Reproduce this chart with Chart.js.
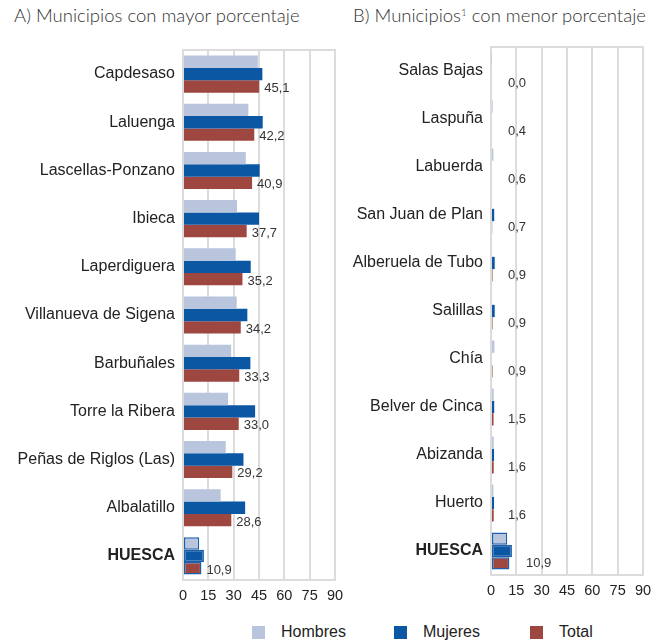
<!DOCTYPE html>
<html lang="es">
<head>
<meta charset="utf-8">
<title>Municipios con mayor y menor porcentaje</title>
<script src="https://cdn.jsdelivr.net/npm/chart.js@4.4.1/dist/chart.umd.min.js"></script>
<style>
  html, body { margin: 0; padding: 0; background: #fff; }
  body { position: relative; width: 664px; height: 642px; overflow: hidden;
         font-family: 'Liberation Sans', Arial, sans-serif; color: #222; }
  .titulo { position: absolute; top: 4px; font-family: Lato, 'Open Sans', sans-serif;
            font-weight: 300; font-size: 18.5px; color: #333; white-space: nowrap; }
  .titulo sup { font-size: 10px; vertical-align: 6px; line-height: 0; }
  canvas { position: absolute; }
  .ley-caja { position: absolute; top: 626px; width: 13px; height: 13px; }
  .ley-txt  { position: absolute; top: 623px; font-size: 16px; color: #222; }
</style>
</head>
<body>
<div class="titulo" style="left:14px">A) Municipios con mayor porcentaje</div>
<div class="titulo" style="left:353px">B) Municipios<sup>1</sup> con menor porcentaje</div>

<canvas id="chartMayor" width="350" height="566" style="left:0;top:44px"></canvas>
<canvas id="chartMenor" width="319" height="564" style="left:345px;top:41px"></canvas>

<div class="ley-caja" style="left:252px;background:#b8c5dd"></div>
<div class="ley-txt"  style="left:281px">Hombres</div>
<div class="ley-caja" style="left:394px;background:#0b57a4"></div>
<div class="ley-txt"  style="left:423px">Mujeres</div>
<div class="ley-caja" style="left:530px;background:#9e4640"></div>
<div class="ley-txt"  style="left:559px">Total</div>

<script>
/* ── Datos (porcentajes) ─────────────────────────────────────────── */
const seriesLabels = ['Hombres', 'Mujeres', 'Total'];
const xTicks = [0, 15, 30, 45, 60, 75, 90];

// A) mayor porcentaje
const mayorMunicipios = ['Capdesaso', 'Laluenga', 'Lascellas-Ponzano', 'Ibieca', 'Laperdiguera',
  'Villanueva de Sigena', 'Barbuñales', 'Torre la Ribera', 'Peñas de Riglos (Las)', 'Albalatillo', 'HUESCA'];
const mayorHombres = [44.3, 38.7, 37.2, 32.0, 31.2, 31.8, 28.5, 26.7, 25.3, 22.3, 9.6];
const mayorMujeres = [47.0, 47.2, 45.4, 45.0, 40.1, 38.1, 39.9, 42.7, 35.8, 36.8, 12.4];
const mayorTotal   = [45.1, 42.2, 40.9, 37.7, 35.2, 34.2, 33.3, 33.0, 29.2, 28.6, 10.9];

// B) menor porcentaje
const menorMunicipios = ['Salas Bajas', 'Laspuña', 'Labuerda', 'San Juan de Plan', 'Alberuela de Tubo',
  'Salillas', 'Chía', 'Belver de Cinca', 'Abizanda', 'Huerto', 'HUESCA'];
const menorHombres = [0.3, 1.0, 1.4, 0.0, 0.0, 0.0, 2.0, 1.6, 1.6, 1.4, 9.6];
const menorMujeres = [0.5, 0.5, 0.5, 1.9, 2.2, 2.2, 0.4, 1.9, 1.8, 1.8, 12.4];
const menorTotal   = [0.0, 0.4, 0.6, 0.7, 0.9, 0.9, 0.9, 1.5, 1.6, 1.6, 10.9];

(function () {
  const colores = ['#b8c5dd', '#0b57a4', '#9e4640'];
  const rejilla = '#dcdcdc';
  const fuente  = "'Liberation Sans', Arial, sans-serif";

  /* Marco gris del área de trazado + etiquetas de valor del Total */
  const marcoEtiquetas = {
    id: 'marcoEtiquetas',
    beforeDatasetsDraw(chart) {
      const a = chart.chartArea, ctx = chart.ctx;
      ctx.save();
      ctx.strokeStyle = rejilla;
      ctx.lineWidth = 2;
      ctx.strokeRect(a.left, a.top, a.right - a.left, a.bottom - a.top);
      ctx.restore();
    },
    afterDatasetsDraw(chart, args, opts) {
      const ctx = chart.ctx;
      const meta = chart.getDatasetMeta(2);
      const vals = chart.data.datasets[2].data;
      const x0 = chart.scales.x.getPixelForValue(0);
      ctx.save();
      ctx.font = '13px ' + fuente;
      ctx.fillStyle = '#333';
      ctx.textAlign = 'left';
      ctx.textBaseline = 'middle';
      meta.data.forEach((bar, i) => {
        const x = opts.fijo ? x0 + opts.dx + (vals[i] >= 10 ? 18 : 0) : bar.x + opts.dx;
        ctx.fillText(vals[i].toFixed(1).replace('.', ','), x, bar.y + opts.dy);
      });
      ctx.restore();
    },
  };

  function crear(id, labels, hombres, mujeres, total, anchoEje, padDer, etiq) {
    const n = labels.length;
    const borde = labels.map((l, i) => (i === n - 1 ? 1.5 : 0));
    const mk = (k, data, minLen) => ({
      label: seriesLabels[k],
      data: data,
      backgroundColor: colores[k],
      borderColor: '#1d5fa8',
      borderWidth: borde,
      borderSkipped: false,
      minBarLength: minLen,
      barPercentage: 1.0,
      categoryPercentage: 0.77,
    });
    return new Chart(document.getElementById(id), {
      type: 'bar',
      data: {
        labels: labels,
        datasets: [mk(0, hombres, 0), mk(1, mujeres, 1), mk(2, total, 1)],
      },
      options: {
        indexAxis: 'y',
        responsive: false,
        animation: false,
        layout: { padding: { top: 6, right: padDer, bottom: 0, left: 0 } },
        plugins: {
          legend:  { display: false },
          tooltip: { enabled: false },
          marcoEtiquetas: etiq,
        },
        scales: {
          x: {
            min: 0, max: 90,
            afterBuildTicks: (s) => { s.ticks = xTicks.map(v => ({ value: v })); },
            afterFit: (s) => { s.height = 30; s.paddingLeft = 0; s.paddingRight = 0; },
            grid:   { color: rejilla, lineWidth: 2, drawTicks: false },
            border: { display: false },
            ticks:  { color: '#222', padding: 7, font: { size: 14.5, family: fuente } },
          },
          y: {
            afterFit: (s) => { s.width = anchoEje; s.paddingTop = 0; s.paddingBottom = 0; },
            grid:   { display: false, drawTicks: false },
            border: { display: false },
            ticks: {
              color: '#222',
              padding: 8,
              font: (c) => ({
                size: 16,
                family: fuente,
                weight: c.index === n - 1 ? 'bold' : 'normal',
              }),
            },
          },
        },
      },
      plugins: [marcoEtiquetas],
    });
  }

  crear('chartMayor', mayorMunicipios, mayorHombres, mayorMujeres, mayorTotal, 183, 15, { dx: 5, dy: 2 });
  crear('chartMenor', menorMunicipios, menorHombres, menorMujeres, menorTotal, 146, 21, { dx: 17, dy: 0.5, fijo: true });
})();
</script>
</body>
</html>
